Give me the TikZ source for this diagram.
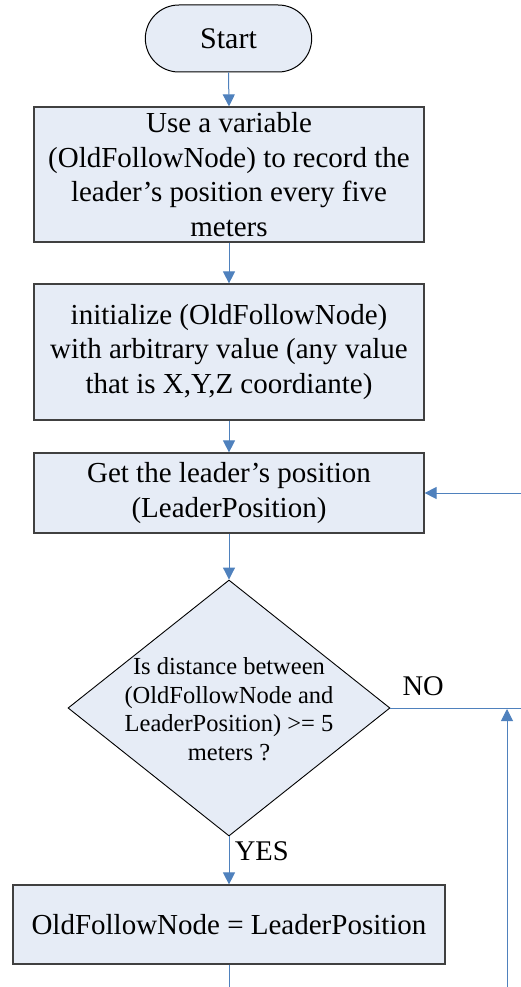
\documentclass[tikz,border=0pt]{standalone}
\usepackage{fontspec}
\setmainfont{Liberation Serif}
\usetikzlibrary{shapes.misc,shapes.geometric,arrows.meta}
\definecolor{boxfill}{RGB}{230,236,246}
\definecolor{boxline}{RGB}{64,64,64}
\definecolor{flow}{RGB}{79,129,189}
\tikzset{
  procbox/.style={rectangle, draw=boxline, line width=1.2pt, fill=boxfill,
    align=center, font=\fontsize{29}{34.5}\selectfont, inner sep=0pt},
  termbox/.style={rounded rectangle, draw=black, line width=1pt, fill=boxfill,
    font=\fontsize{30}{34}\selectfont, minimum width=173pt, minimum height=67pt},
  decbox/.style={diamond, draw=black, line width=0.9pt, fill=boxfill,
    aspect=1.258, minimum width=322pt, minimum height=256pt, inner sep=0pt},
  dectext/.style={align=center, font=\fontsize{24.5}{28.5}\selectfont, inner sep=0pt},
  flowline/.style={draw=flow, line width=1pt},
  flowarrow/.style={flowline, -{Triangle[length=12pt,width=12pt]}},
  lbl/.style={font=\fontsize{28.5}{34}\selectfont}
}
\begin{document}
\begin{tikzpicture}[x=1pt,y=1pt]
\useasboundingbox (0,0) rectangle (521,-987);

% process steps
\node[termbox] (start) at (228.5,-38.5) {Start};
\node[procbox, minimum width=390pt, minimum height=135pt] (rec) at (229,-174.5)
  {Use a variable\\(OldFollowNode) to record the\\leader’s position every five\\meters};
\node[procbox, minimum width=390pt, minimum height=136pt] (init) at (229,-352)
  {initialize (OldFollowNode)\\with arbitrary value (any value\\that is X,Y,Z coordiante)};
\node[procbox, minimum width=390pt, minimum height=80pt] (get) at (229,-493)
  {Get the leader’s position\\(LeaderPosition)};
\node[decbox] (check) at (229,-708) {};
\node[dectext] (checkText) at ([yshift=-1pt]check.center)
  {Is distance between\\(OldFollowNode and\\LeaderPosition) >= 5\\meters ?};
\node[procbox, minimum width=432pt, minimum height=79pt] (upd) at (229,-924.5)
  {OldFollowNode = LeaderPosition};

% loop-back ends at the right edge
\coordinate (noEnd) at (521,-708);
\coordinate (loopIn) at (521,-493);
\coordinate (updEnd) at (229,-987);
\coordinate (riseFoot) at (507,-987);
\coordinate (riseTop) at (507,-709);

% connectors
\draw[flowarrow] (start.south) -- (rec.north);
\draw[flowarrow] (rec.south) -- (init.north);
\draw[flowarrow] (init.south) -- (get.north);
\draw[flowarrow] (get.south) -- (check.north);
\draw[flowarrow] (check.south) -- node[lbl, right=2pt, pos=0.3] (yes) {YES} (upd.north);
\draw[flowline] (check.east) -- node[lbl, above=8pt, pos=0.25] (no) {NO} (noEnd);
\draw[flowarrow] (loopIn) -- (get.east);
\draw[flowline] (upd.south) -- (updEnd);
\draw[flowarrow] (riseFoot) -- (riseTop);
\end{tikzpicture}
\end{document}
